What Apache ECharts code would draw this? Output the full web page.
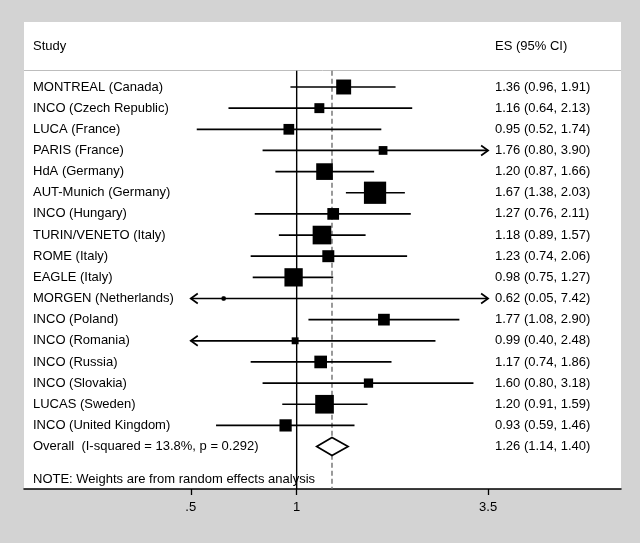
<!DOCTYPE html>
<html>
<head>
<meta charset="utf-8">
<script src="https://cdn.jsdelivr.net/npm/echarts@6/dist/echarts.min.js"></script>
<style>
html,body{margin:0;padding:0;background:#d3d3d3;}
#chart{width:640px;height:543px;}
</style>
</head>
<body>
<div id="chart"></div>
<script>
const studies = ['MONTREAL (Canada)','INCO (Czech Republic)','LUCA (France)','PARIS (France)','HdA (Germany)','AUT-Munich (Germany)','INCO (Hungary)','TURIN/VENETO (Italy)','ROME (Italy)','EAGLE (Italy)','MORGEN (Netherlands)','INCO (Poland)','INCO (Romania)','INCO (Russia)','INCO (Slovakia)','LUCAS (Sweden)','INCO (United Kingdom)'];
const es = [1.36,1.16,0.95,1.76,1.20,1.67,1.27,1.18,1.23,0.98,0.62,1.77,0.99,1.17,1.60,1.20,0.93];
const lo = [0.96,0.64,0.52,0.80,0.87,1.38,0.76,0.89,0.74,0.75,0.05,1.08,0.40,0.74,0.80,0.91,0.59];
const hi = [1.91,2.13,1.74,3.90,1.66,2.03,2.11,1.57,2.06,1.27,7.42,2.90,2.48,1.86,3.18,1.59,1.46];
const weights = [7.0,3.1,3.6,2.4,8.7,15.5,4.3,10.9,4.5,10.5,0.4,4.3,1.5,5.0,2.7,10.9,4.7];
const overallLabel = 'Overall  (I-squared = 13.8%, p = 0.292)';
const overallES = 1.26, overallLo = 1.14, overallHi = 1.40;
const tickValues = [0.5, 1, 3.5];
const tickLabels = ['.5', '1', '3.5'];
const noteText = 'NOTE: Weights are from random effects analysis';

const FONT = '13px "Liberation Sans", Arial, Helvetica, sans-serif';
const CLIP_LO = 0.5, CLIP_HI = 3.5;
const TEXT_X = 33, ES_X = 495;
const fmt = v => v.toFixed(2);

const chart = echarts.init(document.getElementById('chart'));

const studyData = studies.map((s, i) => [lo[i], hi[i], es[i], i, weights[i]]);

function txt(x, y, t) {
  return {type: 'text', x: x, y: y, style: {text: t, font: FONT, fill: '#000', align: 'left', verticalAlign: 'middle', textAlign: 'left', textVerticalAlign: 'middle'}};
}

function renderStudy(params, api) {
  const l = api.value(0), h = api.value(1), e = api.value(2), row = api.value(3), w = api.value(4);
  const i = params.dataIndex;
  const cl = Math.max(l, CLIP_LO), ch = Math.min(h, CLIP_HI);
  const pL = api.coord([cl, row]);
  const pH = api.coord([ch, row]);
  const pE = api.coord([e, row]);
  const y = pE[1];
  const lineStyle = {stroke: '#000', lineWidth: 1.7, fill: null};
  const children = [
    {type: 'line', shape: {x1: pL[0], y1: y, x2: pH[0], y2: y}, style: lineStyle}
  ];
  if (l < CLIP_LO) {
    children.push({type: 'polyline', shape: {points: [[pL[0] + 7, y - 5], [pL[0], y], [pL[0] + 7, y + 5]]}, style: lineStyle});
  }
  if (h > CLIP_HI) {
    children.push({type: 'polyline', shape: {points: [[pH[0] - 7, y - 5], [pH[0], y], [pH[0] - 7, y + 5]]}, style: lineStyle});
  }
  const side = 5.65 * Math.sqrt(w);
  children.push({type: 'rect', shape: {x: pE[0] - side / 2, y: y - side / 2, width: side, height: side}, style: {fill: '#000'}});
  children.push({type: 'circle', shape: {cx: pE[0], cy: y, r: 2.2}, style: {fill: '#000'}});
  children.push(txt(TEXT_X, y, studies[i]));
  children.push(txt(ES_X, y, fmt(e) + ' (' + fmt(l) + ', ' + fmt(h) + ')'));
  return {type: 'group', children: children};
}

function renderOverall(params, api) {
  const l = api.value(0), h = api.value(1), e = api.value(2), row = api.value(3);
  const pL = api.coord([l, row]), pH = api.coord([h, row]), pE = api.coord([e, row]);
  const y = pE[1];
  return {type: 'group', children: [
    {type: 'polygon', shape: {points: [[pL[0], y], [pE[0], y - 9], [pH[0], y], [pE[0], y + 9]]}, style: {fill: '#fff', stroke: '#000', lineWidth: 1.7}},
    txt(TEXT_X, y, overallLabel),
    txt(ES_X, y, fmt(e) + ' (' + fmt(l) + ', ' + fmt(h) + ')')
  ]};
}

const Y_TOP_LINE = -0.77, Y_BOTTOM = 19.007;
function renderVLine(params, api) {
  const x = api.value(0);
  const dashed = api.value(1) === 1;
  const p1 = api.coord([x, Y_TOP_LINE]), p2 = api.coord([x, Y_BOTTOM]);
  return {type: 'line', shape: {x1: p1[0], y1: p1[1], x2: p2[0], y2: p2[1]},
    style: dashed ? {stroke: '#707070', lineWidth: 1.4, lineDash: [5, 3]} : {stroke: '#000', lineWidth: 1.4}};
}

const option = {
  backgroundColor: '#d3d3d3',
  animation: false,
  grid: {left: 24, right: 19, top: 22, bottom: 54, show: true, backgroundColor: '#fff', borderWidth: 0, containLabel: false},
  xAxis: {
    type: 'log', min: 0.1679, max: 8.351, position: 'bottom',
    axisLine: {show: true, onZero: false, lineStyle: {color: '#000', width: 1.5}},
    axisTick: {show: true, inside: false, length: 6, customValues: tickValues, lineStyle: {color: '#000', width: 1.3}},
    axisLabel: {show: true, customValues: tickValues, margin: 12, color: '#000', fontSize: 13, fontFamily: '"Liberation Sans", Arial, sans-serif',
      formatter: v => { const k = tickValues.findIndex(t => Math.abs(t - v) < 1e-6); return k >= 0 ? tickLabels[k] : ''; }},
    splitLine: {show: false}, minorTick: {show: false}, minorSplitLine: {show: false}
  },
  yAxis: {type: 'value', inverse: true, min: -3.073, max: 19.007, show: false},
  graphic: [
    {type: 'line', shape: {x1: 24, y1: 70.5, x2: 621, y2: 70.5}, style: {stroke: '#bdbdbd', lineWidth: 1}, z: 1},
    {type: 'text', x: TEXT_X, y: 46.5, style: {text: 'Study', font: FONT, fill: '#000', align: 'left', verticalAlign: 'middle'}},
    {type: 'text', x: ES_X, y: 46.5, style: {text: 'ES (95% CI)', font: FONT, fill: '#000', align: 'left', verticalAlign: 'middle'}},
    {type: 'text', x: TEXT_X, y: 479.5, style: {text: noteText, font: FONT, fill: '#000', align: 'left', verticalAlign: 'middle'}, z: 100}
  ],
  series: [
    {type: 'custom', name: 'refs', clip: false, renderItem: renderVLine, data: [[1, 0], [overallES, 1]], z: 2},
    {type: 'custom', name: 'studies', clip: false, renderItem: renderStudy, data: studyData, z: 3},
    {type: 'custom', name: 'overall', clip: false, renderItem: renderOverall, data: [[overallLo, overallHi, overallES, studies.length]], z: 4}
  ]
};
chart.setOption(option);
</script>
</body>
</html>
